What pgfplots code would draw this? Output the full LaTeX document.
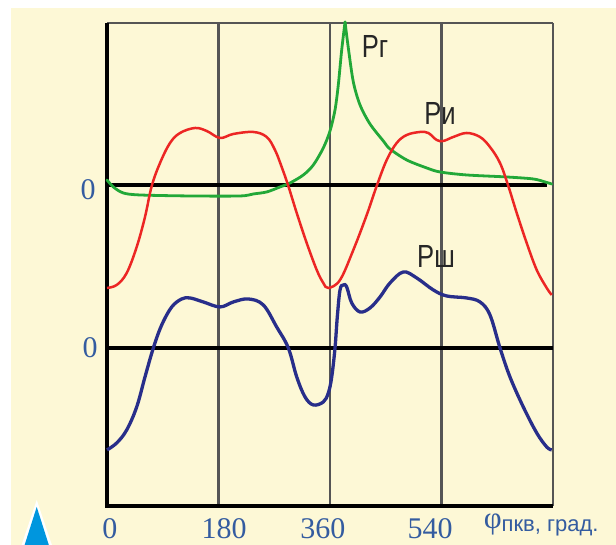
\documentclass[border=0pt]{standalone}
\usepackage{pgfplots}
\usepackage{pgfplotstable}
\pgfplotsset{compat=1.18}
\usepackage{fontspec}
\setmainfont{Liberation Serif}
\newfontfamily\labfont{Liberation Sans}
\definecolor{bgy}{RGB}{253,248,214}
\definecolor{cred}{RGB}{236,38,36}
\definecolor{cgreen}{RGB}{34,168,56}
\definecolor{cblue}{RGB}{40,46,138}
\definecolor{tickblue}{RGB}{52,92,160}
\definecolor{tri}{RGB}{0,150,222}
\definecolor{gridg}{RGB}{85,85,85}

% P_i (inertia), relative to the upper zero line
\pgfplotstableread{
x y
0 -103
15.7 -100
31.8 -88
47.9 -62
61.3 -32
72.2 -1
85.6 22
101.7 42
117.9 52
142.1 57
161 54
182.4 47
203.9 51
236.2 53
257.8 48
271.2 35
282 18
292.7 -1
306.3 -28
322.4 -58
338.6 -85
349.2 -98
357.3 -103
376.2 -95
397.7 -65
419.3 -30
435.4 -1
451.6 25
467.7 42
483.9 50
505.3 53
518.7 52
532.3 45
542.9 44
559.1 48
580.7 52
602.2 48
618.3 38
634.5 22
647.9 -1
661.5 -28
677.6 -58
693.8 -85
709.9 -103
718 -110
}\redtab

% P_g (gas), rising part, relative to the upper zero line
\pgfplotstableread{
x y
0 5
10.2 -2
26.3 -8
53.3 -10
134 -11
214.7 -11
236.2 -9
257.8 -7
279.3 -2
295.5 2
317 10
333.1 20
349.2 37
360 54
368.1 75
373.4 100
378.9 135
384.3 163
}\greenL

% P_g, falling part
\pgfplotstableread{
x y
384.3 163
389.6 137
397.7 103
408.5 80
424.6 61
446.1 44
456.9 36
483.9 25
516.2 17
537.6 13
580.7 10
645.3 8
688.3 6
707.2 3
718 1
}\greenR

% P_sh, relative to the lower zero line
\pgfplotstableread{
x y
0 -102
15.7 -95
31.8 -82
47.9 -59
61.3 -29
74.8 0
88.3 23
104.5 41
120.6 49
134 50
155.5 46
182.4 41
203.9 46
228.1 49
252.3 43
273.9 21
292.7 0
306.3 -29
319.7 -49
333.1 -57
349.2 -54
357.3 -45
362.8 -29
368.1 0
371.8 31
376.2 58
381.5 63
387 61
395.1 45
408.5 36
424.6 40
440.8 51
456.9 65
478.4 76
500 70
526.8 58
548.4 52
580.7 50
602.2 46
618.3 33
634.5 0
650.6 -29
672.1 -59
693.8 -85
709.9 -99
718 -102
}\bluetab

\begin{document}
\begin{tikzpicture}
\begin{axis}[
  set layers,
  scale only axis, width=446pt, height=483pt,
  xmin=0, xmax=720, ymin=-158, ymax=325,
  axis line style={draw=none},
  xtick={180,360,540}, xticklabels={}, ytick=\empty,
  major tick length=0pt,
  xmajorgrids,
  major grid style={draw=gridg, line width=2.4pt},
  clip=false,
]
\begin{pgfonlayer}{axis background}
\fill[white] (axis cs:-172.8,348) rectangle (axis cs:821.8,-197);
\fill[bgy] (axis cs:-155,340) rectangle (axis cs:821.8,-197);
\end{pgfonlayer}

% frame
\draw[gridg, line width=1.8pt] (axis cs:0,325) -- (axis cs:720,325);
\draw[gridg, line width=2.4pt] (axis cs:720,325) -- (axis cs:720,-158);
\draw[black, line width=3.2pt] (axis cs:0,325) -- (axis cs:0,-158) -- (axis cs:720,-158);

% zero lines
\draw[black, line width=3.5pt] (axis cs:0,163) -- (axis cs:710,163);
\draw[black, line width=3.5pt] (axis cs:0,0) -- (axis cs:720,0);

% curves
\addplot[cgreen, line width=2.8pt, line cap=round, smooth, tension=0.5, no markers] table[x=x, y expr=\thisrow{y}+163] {\greenL};
\addplot[cgreen, line width=2.8pt, line cap=round, smooth, tension=0.5, no markers] table[x=x, y expr=\thisrow{y}+163] {\greenR};
\addplot[cred, line width=2.5pt, smooth, tension=0.6, no markers] table[x=x, y expr=\thisrow{y}+163] {\redtab};
\addplot[cblue, line width=3.3pt, smooth, tension=0.6, no markers] table[x=x, y=y] {\bluetab};

% curve labels
\begin{scope}[every node/.style={anchor=base, text=black!85, xscale=0.8, font=\labfont\fontsize{32}{32}\selectfont}]
\node at (axis cs:432.7,290) {Рг};
\node at (axis cs:537.6,223) {Ри};
\node at (axis cs:531.2,80) {Рш};
\end{scope}

% tick labels
\begin{scope}[every node/.style={anchor=base, text=tickblue, font=\fontsize{30}{30}\selectfont, inner sep=0pt}]
\node at (axis cs:4.8,-191) {0};
\node at (axis cs:188.9,-191) {180};
\node at (axis cs:348.7,-191) {360};
\node at (axis cs:521.5,-191) {540};
\node at (axis cs:-30.7,148) {0};
\node at (axis cs:-27.4,-10) {0};
\end{scope}

\node[anchor=base west, text=tickblue, inner sep=0pt] at (axis cs:608,-184)
  {\raisebox{3pt}{\fontsize{31}{31}\selectfont φ}{\labfont\fontsize{22}{22}\selectfont пкв, град.}};

% arrow head (white outline, then blue)
\fill[white] (axis cs:-113.5,-152) -- (axis cs:-138,-197) -- (axis cs:-89,-197) -- cycle;
\fill[tri] (axis cs:-113.5,-159) -- (axis cs:-133,-197) -- (axis cs:-94,-197) -- cycle;
\end{axis}
\end{tikzpicture}
\end{document}
